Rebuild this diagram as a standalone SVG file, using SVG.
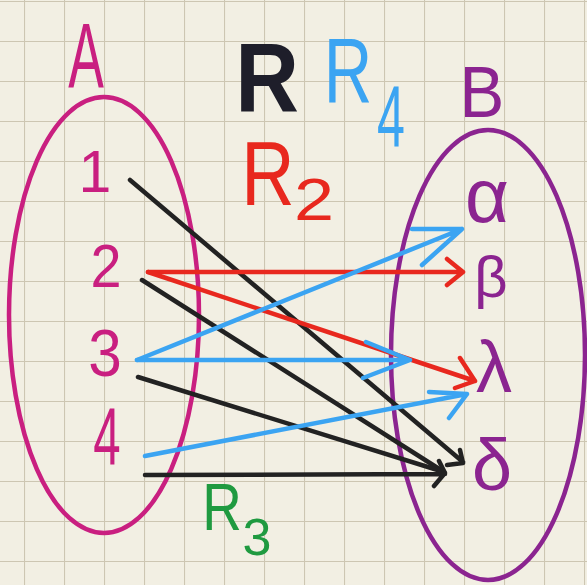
<svg xmlns="http://www.w3.org/2000/svg" width="587" height="585" viewBox="0 0 587 585">
<defs>
<pattern id="grid" x="24" y="1" width="40" height="40" patternUnits="userSpaceOnUse">
<path d="M0,0 V40 M0,0 H40" fill="none" stroke="#cdc6b2" stroke-width="2.2"/>
</pattern>
</defs>
<style>
text{font-family:"Liberation Sans","DejaVu Sans",sans-serif;}
.mag{fill:#c91f80;}
.pur{fill:#8b2490;}
.blk{stroke:#222;}
.red{stroke:#e8281e;}
.blu{stroke:#3ba4f2;}
.ln{fill:none;stroke-width:4.5;stroke-linecap:round;stroke-linejoin:round;}
.set{fill:none;stroke-width:4.5;}
</style>
<rect width="587" height="585" fill="#f2efe3"/>
<rect width="587" height="585" fill="url(#grid)"/>

<g id="setA">
<ellipse cx="104" cy="315" rx="95" ry="218" class="set" stroke="#c91f80"/>
<text class="mag" font-size="92" text-anchor="middle" transform="translate(86,88) scale(0.58,1)">A</text>
</g>
<g id="setB">
<ellipse cx="488" cy="355" rx="97" ry="225" class="set" stroke="#8b2490"/>
<text class="pur" font-size="73" text-anchor="middle" transform="translate(482,117) scale(0.92,1)">B</text>
</g>

<g id="n1"><text class="mag" font-size="59" text-anchor="middle" x="95" y="192">1</text></g>
<g id="n2"><text class="mag" font-size="62" text-anchor="middle" transform="translate(106,287) scale(0.9,1)">2</text></g>
<g id="n3"><text class="mag" font-size="67" text-anchor="middle" transform="translate(105,376) scale(0.9,1)">3</text></g>
<g id="n4"><text class="mag" font-size="82" text-anchor="middle" transform="translate(107,465) scale(0.6,1)">4</text></g>

<g id="alpha"><text class="pur" font-size="76" text-anchor="middle" x="487" y="222">α</text></g>
<g id="beta"><text class="pur" font-size="58" text-anchor="middle" x="491" y="297">β</text></g>
<g id="lambda"><text class="pur" font-size="72" text-anchor="middle" x="494" y="392">λ</text></g>
<g id="delta"><text class="pur" font-size="72" text-anchor="middle" x="492" y="490">δ</text></g>

<g id="labelR"><text fill="#1e1e2a" font-size="98" font-weight="bold" text-anchor="middle" transform="translate(267,112) scale(0.9,1)">R</text></g>
<g id="labelR4">
<text fill="#3ba4f2" font-size="92" text-anchor="middle" transform="translate(348,103) scale(0.73,1)">R</text>
<text fill="#3ba4f2" font-size="88" text-anchor="middle" transform="translate(391,147) scale(0.57,1)">4</text>
</g>
<g id="labelR2">
<text fill="#e8281e" font-size="90" text-anchor="middle" transform="translate(268,205) scale(0.82,1)">R</text>
<text fill="#e8281e" font-size="60" text-anchor="middle" transform="translate(314,220) scale(1.2,1)">2</text>
</g>
<g id="labelR3">
<text fill="#1f9a40" font-size="66" text-anchor="middle" transform="translate(222,530) scale(0.83,1)">R</text>
<text fill="#1f9a40" font-size="52" text-anchor="middle" x="257" y="555">3</text>
</g>

<g id="connectors">
<path class="ln blk" d="M130,180 L463,462 M460,450 L463,463 L447,465"/>
<path class="ln blk" d="M142,280 L444,472"/>
<path class="ln blk" d="M138,377 L444,472"/>
<path class="ln blk" d="M145,475 L445,474 M439,461 L445,473 L434,486"/>
<path class="ln red" d="M148,272 L463,272 M447,259 L463,272 L447,285"/>
<path class="ln red" d="M148,272 L475,381 M460,358 L475,381 L455,388"/>
<path class="ln blu" d="M137,360 L462,229 M412,229 L462,229 L422,265"/>
<path class="ln blu" d="M137,360 L410,360 M366,342 L410,360 L363,378"/>
<path class="ln blu" d="M145,456 L467,394 M429,392 L467,394 L449,418"/>
</g>
</svg>
